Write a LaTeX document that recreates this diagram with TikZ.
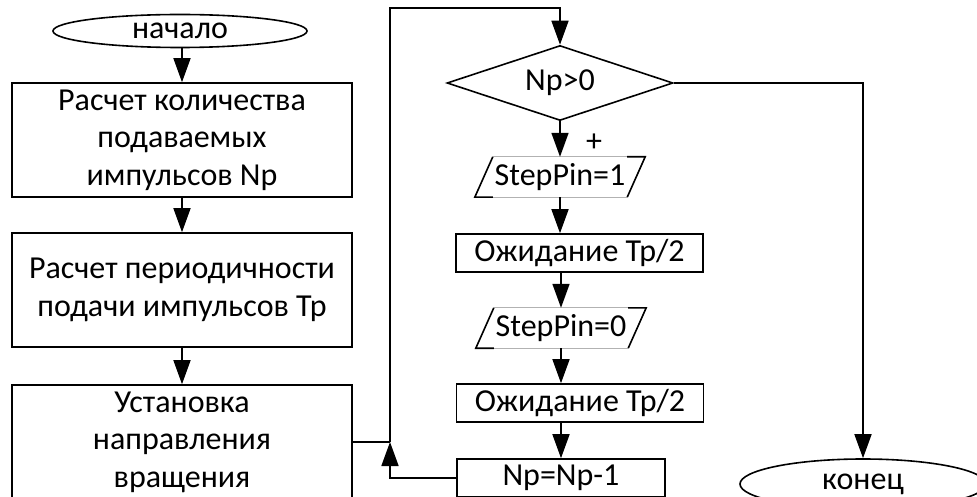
\documentclass[tikz,border=0pt]{standalone}
\usepackage{fontspec}
\setmainfont{Carlito}
\usetikzlibrary{shapes.geometric,arrows.meta,calc}

\tikzset{
  every node/.style={font=\fontsize{32}{37.5}\selectfont},
  line/.style={line width=1.6pt,color=black},
  arr/.style={line, -{Triangle[length=24pt,width=17pt]}},
  termbox/.style={ellipse, draw, line width=1.6pt, inner sep=0pt},
  procbox/.style={rectangle, draw, line width=1.6pt, inner sep=0pt, align=center},
  condbox/.style={diamond, draw, line width=1.6pt, inner sep=0pt, aspect=3},
  iobox/.style={rectangle, inner sep=0pt, minimum width=134pt, minimum height=40pt},
  ioedge/.style={draw=black!30, line width=0.8pt}
}

\begin{document}
\begin{tikzpicture}[scale=1.000000,x=1pt,y=1pt]
\useasboundingbox (0.000000,0.000000) rectangle (977.000000,-497.000000);
% Drawing left column
\node[termbox, minimum width=254pt, minimum height=33pt] (start) at (180.000000,-31.000000) {начало};
\node[procbox, minimum width=340pt, minimum height=114pt] (calcN) at (182.000000,-140.000000) {Расчет количества\\подаваемых\\импульсов Np};
\node[procbox, minimum width=340pt, minimum height=114pt] (calcT) at (182.000000,-290.000000) {Расчет периодичности\\подачи импульсов Tp};
\node[procbox, minimum width=340pt, minimum height=114pt] (dir) at (182.000000,-442.000000) {Установка\\направления\\вращения};
% Drawing loop column
\node[condbox, minimum width=226pt, minimum height=75pt] (cond) at (560.000000,-83.000000) {Np>0};
\node[iobox] (pinhi) at (560.000000,-177.000000) {StepPin=1};
\node[iobox] (pinlo) at (561.000000,-328.000000) {StepPin=0};
\node[procbox, minimum width=247pt, minimum height=38pt] (waithi) at (579.500000,-253.000000) {Ожидание Tp/2};
\node[procbox, minimum width=247pt, minimum height=38pt] (waitlo) at (580.000000,-403.000000) {Ожидание Tp/2};
\node[procbox, minimum width=208pt, minimum height=38pt] (decr) at (561.000000,-478.000000) {Np=Np-1};
\node[termbox, minimum width=246pt, minimum height=50pt] (stop) at (863.000000,-484.000000) {конец};
% Done with nodes; drawing io sides
\foreach \p in {pinhi,pinlo} {
  \draw[ioedge] ($(\p.south west)+(-18,0)$) -- (\p.south east);
  \draw[ioedge] (\p.north west) -- ($(\p.north east)+(18,0)$);
  \draw[line] (\p.south west) -- ($(\p.south west)+(-18,0)$) -- (\p.north west);
  \draw[line] (\p.north east) -- ($(\p.north east)+(18,0)$) -- (\p.south east);
}
% Drawing connectors
\coordinate (join) at (390.000000,-442.000000);
\coordinate (loop) at (390.000000,-8.000000);
\draw[arr] (start.south -| calcN.north) -- (calcN.north);
\draw[arr] (calcN.south) -- (calcT.north);
\draw[arr] (calcT.south) -- (dir.north);
\draw[line] (dir.east) -- (join);
\draw[arr] (join) -- (loop) -| (cond.north);
\draw[arr] (cond.south) -- node[right=22pt, yshift=-4pt] {+} (pinhi.north);
\draw[arr] (pinhi.south) -- (pinhi.south |- waithi.north);
\draw[arr] (pinlo.north |- waithi.south) -- (pinlo.north);
\draw[arr] (pinlo.south) -- (pinlo.south |- waitlo.north);
\draw[arr] (decr.north |- waitlo.south) -- (decr.north);
\draw[arr] (decr.west) -| (join);
\draw[arr] (cond.east) -| (stop.north);
% Done with connectors
\end{tikzpicture}
\end{document}
